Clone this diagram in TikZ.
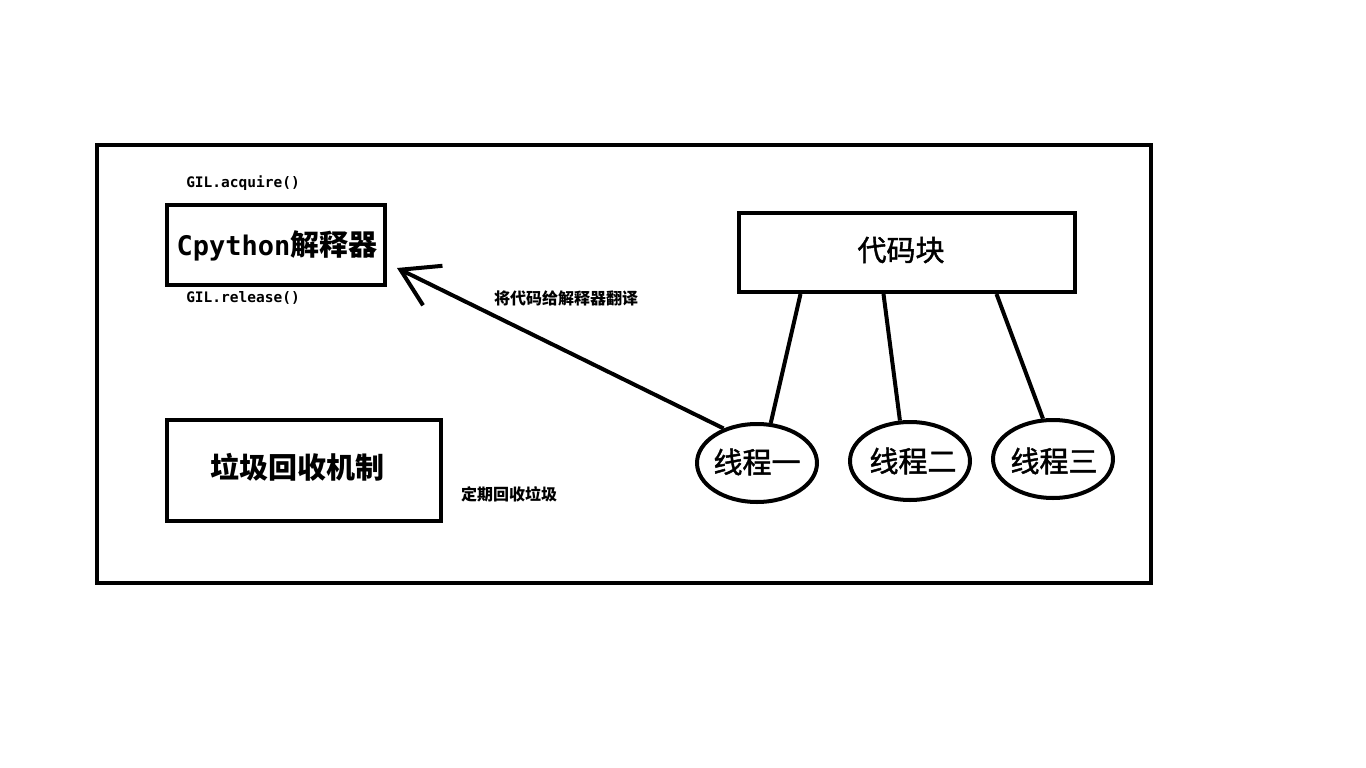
\documentclass[tikz,border=0pt]{standalone}
\usepackage{fontspec}
\newfontfamily\cjk{Noto Sans CJK SC}
\newfontfamily\cjkm{Noto Sans CJK SC}[FakeBold=1.5]
\newfontfamily\mono{DejaVu Sans Mono}
\usetikzlibrary{shapes.geometric,arrows.meta,calc}
\tikzset{
  box/.style={draw, line width=4pt, rectangle, inner sep=0pt},
  bubble/.style={draw, line width=4pt, ellipse, inner sep=0pt, minimum width=120pt, minimum height=78pt},
  big/.style={font=\cjk\bfseries\fontsize{29}{31}\selectfont},
  plain/.style={font=\cjkm\fontsize{29}{31}\selectfont},
  small/.style={font=\cjk\bfseries\fontsize{16}{18}\selectfont},
  code/.style={font=\mono\bfseries\fontsize{14.5}{16}\selectfont},
  link/.style={line width=4pt},
}
\begin{document}
\begin{tikzpicture}[x=1pt,y=-1pt]
\useasboundingbox[fill=white] (0,0) rectangle (1366,768);
\node[box, minimum width=1054pt, minimum height=438pt] (outer) at (624,364) {};
\node[box, minimum width=218pt, minimum height=80pt] (cpy) at (276,245) {};
\node[big] (cpyt) at (277,246) {{\mono\bfseries\fontsize{27}{30}\selectfont Cpython}解释器};
\node[code] (acq) at (243,183) {GIL.acquire()};
\node[code] (rel) at (243,298) {GIL.release()};
\node[box, minimum width=274pt, minimum height=101pt] (gc) at (304,470) {};
\node[big] (gct) at (297,467) {垃圾回收机制};
\node[small] (gcl) at (509,494) {定期回收垃圾};
\node[box, minimum width=336pt, minimum height=79pt] (blk) at (906.5,252.5) {};
\node[plain] (blkt) at (901,250) {代码块};
\node[bubble] (t1) at (757,463) {};
\node[plain] (t1t) at (757,462) {线程一};
\node[bubble] (t2) at (910,461) {};
\node[plain] (t2t) at (913,461) {线程二};
\node[bubble] (t3) at (1053,459) {};
\node[plain] (t3t) at (1054,461) {线程三};
\draw[link] ($(blk.south)+(-106,0)$) -- (t1.71);
\draw[link] ($(blk.south)+(-23,0)$) -- (t2.104);
\draw[link] ($(blk.south)+(90,0)$) -- (t3.104);
\coordinate (tip) at ($(cpy.east)+(10,23)$);
\draw[link, -{Straight Barb[length=36pt, width=44pt, line width=4pt]}] (t1.134) -- (tip);
\node[small] (lbl) at (566,298) {将代码给解释器翻译};
\end{tikzpicture}
\end{document}
